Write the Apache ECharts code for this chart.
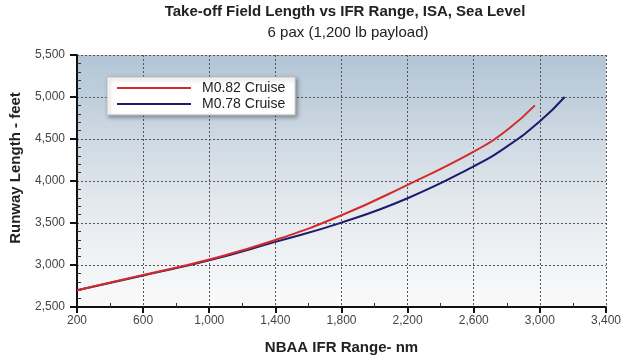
<!DOCTYPE html>
<html><head><meta charset="utf-8">
<script src="https://cdn.jsdelivr.net/npm/echarts@6/dist/echarts.min.js"></script>
<style>html,body{margin:0;padding:0;background:#fff}#c{width:624px;height:360px}</style>
</head><body><div id="c"></div>
<script>
const titleText = 'Take-off Field Length vs IFR Range, ISA, Sea Level';
const subtitleText = '6 pax (1,200 lb payload)';
const seriesNames = ['M0.82 Cruise', 'M0.78 Cruise'];
const m082Range = [200, 600, 1000, 1400, 1800, 2200, 2600, 2800, 2970];
const m082Runway = [2700, 2880, 3065, 3298, 3592, 3955, 4350, 4605, 4900];
const m078Range = [200, 600, 1000, 1400, 1800, 2200, 2600, 2800, 3000, 3150];
const m078Runway = [2700, 2875, 3055, 3275, 3505, 3795, 4175, 4410, 4710, 5000];
const xTicks = [200, 600, 1000, 1400, 1800, 2200, 2600, 3000, 3400];
const yTicks = [2500, 3000, 3500, 4000, 4500, 5000, 5500];

const fmt = v => v.toLocaleString('en-US');
const pairs = (xs, ys) => xs.map((x, i) => [x, ys[i]]);
const font = 'Liberation Sans, Arial, sans-serif';

const chart = echarts.init(document.getElementById('c'));
chart.setOption({
  animation: false,
  title: [
    {text: titleText, left: 340, top: -1, textAlign: 'center',
     textStyle: {fontFamily: font, fontSize: 15, fontWeight: 'bold', color: '#222'}},
    {text: subtitleText, left: 343, top: 20, textAlign: 'center',
     textStyle: {fontFamily: font, fontSize: 15, fontWeight: 'normal', color: '#222'}}
  ],
  legend: {
    left: 107, top: 77, width: 196, height: 36, orient: 'vertical',
    backgroundColor: '#fff', borderColor: '#bbb', borderWidth: 1,
    shadowColor: 'rgba(0,0,0,0.35)', shadowBlur: 4, shadowOffsetX: 2, shadowOffsetY: 2,
    padding: [4, 10, 4, 10], itemGap: 2, itemWidth: 74, itemHeight: 12,
    icon: 'path://M0,5 L74,5 L74,7 L0,7 Z',
    textStyle: {fontFamily: font, fontSize: 14, color: '#222', padding: [0, 0, 0, 6]},
    data: seriesNames
  },
  grid: {
    left: 70, right: 14, top: 55, bottom: 53, show: true, borderWidth: 0,
    backgroundColor: new echarts.graphic.LinearGradient(0, 0, 0, 1, [
      {offset: 0, color: '#b2c5d5'}, {offset: 0.6, color: '#e4e9ee'}, {offset: 1, color: '#fafafa'}
    ])
  },
  xAxis: {
    type: 'value', min: 200, max: 3400, interval: 400,
    name: 'NBAA IFR Range- nm', nameLocation: 'middle', nameGap: 33,
    nameTextStyle: {fontFamily: font, fontSize: 15, fontWeight: 'bold', color: '#222'},
    axisLine: {lineStyle: {color: '#111', width: 2}},
    axisTick: {show: true, length: 6, lineStyle: {color: '#111', width: 2}},
    minorTick: {show: true, splitNumber: 2, length: -4, lineStyle: {color: '#333', width: 1}},
    axisLabel: {fontFamily: font, fontSize: 12, color: '#444', margin: 8, formatter: fmt},
    splitLine: {show: true, lineStyle: {color: '#555', type: [2, 2], width: 1}}
  },
  yAxis: {
    type: 'value', min: 2500, max: 5500, interval: 500,
    name: 'Runway Length - feet', nameLocation: 'middle', nameGap: 54,
    nameTextStyle: {fontFamily: font, fontSize: 15, fontWeight: 'bold', color: '#222', padding: [0, 0, 0, 26]},
    axisLine: {show: true, lineStyle: {color: '#111', width: 2}},
    axisTick: {show: true, length: 7, lineStyle: {color: '#111', width: 2}},
    minorTick: {show: true, splitNumber: 5, length: -4, lineStyle: {color: '#333', width: 1}},
    axisLabel: {fontFamily: font, fontSize: 12, color: '#444', margin: 12, formatter: fmt},
    splitLine: {show: true, lineStyle: {color: '#555', type: [2, 2], width: 1}}
  },
  series: [
    {name: seriesNames[0], type: 'line', smooth: 0.5, showSymbol: false,
     color: '#d42a2a', lineStyle: {width: 2, color: '#d42a2a'}, z: 3,
     data: pairs(m082Range, m082Runway)},
    {name: seriesNames[1], type: 'line', smooth: 0.5, showSymbol: false,
     color: '#1f1a6e', lineStyle: {width: 2, color: '#1f1a6e'}, z: 2,
     data: pairs(m078Range, m078Runway)}
  ]
});
</script></body></html>
